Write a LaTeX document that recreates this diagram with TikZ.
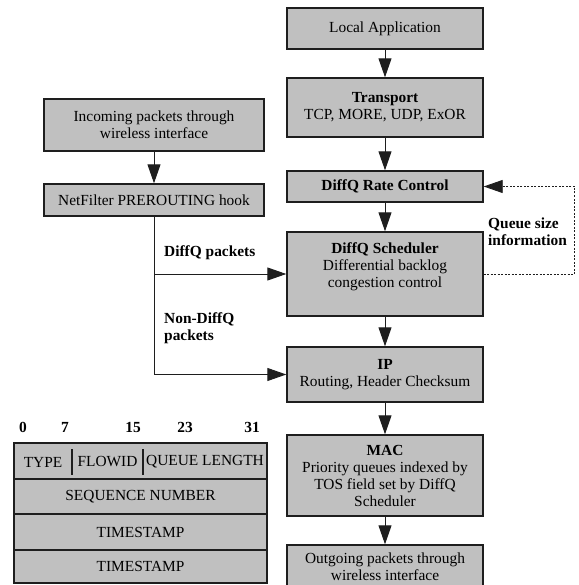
\documentclass[tikz,border=0pt]{standalone}
\usepackage{fontspec}
\setmainfont{Liberation Serif}
\usetikzlibrary{arrows.meta}
\definecolor{boxgray}{RGB}{192,192,192}
\definecolor{edgecol}{RGB}{30,30,30}
\newcommand\fsz{\fontsize{15.4}{17}\selectfont}
\tikzset{
  box/.style={draw=edgecol, line width=1.4pt, fill=boxgray, align=center, inner sep=0pt, minimum width=196pt, font=\fsz},
  row/.style={draw=edgecol, line width=1.4pt, fill=boxgray, inner sep=0pt, minimum width=253pt, font=\fsz},
  flow/.style={draw=edgecol, line width=1pt, -{Triangle[length=19pt,width=13pt]}},
  fb/.style={draw=edgecol, line width=0.9pt, dash pattern=on 2pt off 1.5pt, -{Triangle[length=19pt,width=13pt]}},
  lbl/.style={font=\fsz\bfseries, align=left, inner sep=0pt},
  txt/.style={font=\fsz, inner sep=0pt},
  bitnum/.style={font=\fsz\bfseries, inner sep=0pt},
}
\begin{document}
\begin{tikzpicture}[x=1pt,y=-1pt]
\useasboundingbox (0,0) rectangle (578,585);
% right column
\node[box, minimum height=41pt] (app) at (385,28.5) {Local Application};
\node[box, minimum height=59pt] (tr) at (385,107.5) {\textbf{Transport}\\TCP, MORE, UDP, ExOR};
\node[box, minimum height=31pt] (rate) at (385,186.5) {\textbf{DiffQ Rate Control}};
\node[box, minimum height=84pt] (sched) at (385,274) {\textbf{DiffQ Scheduler}\\Differential backlog\\congestion control\\\mbox{}};
\node[box, minimum height=55pt] (ip) at (385,374.5) {\textbf{IP}\\Routing, Header Checksum};
\node[box, minimum height=81pt] (mac) at (385,475.5) {\textbf{MAC}\\Priority queues indexed by\\TOS field set by DiffQ\\Scheduler};
\node[box, minimum height=43pt] (out) at (385,566.5) {Outgoing packets through\\wireless interface};
% left column
\node[box, minimum width=220pt, minimum height=52pt] (in) at (154,125) {Incoming packets through\\wireless interface};
\node[box, minimum width=220pt, minimum height=32pt] (nf) at (154,200) {NetFilter PREROUTING hook};
% connectors
\draw[flow] (app) -- (tr);
\draw[flow] (tr) -- (rate);
\draw[flow] (rate) -- (sched);
\draw[flow] (sched) -- (ip);
\draw[flow] (ip) -- (mac);
\draw[flow] (mac) -- (out);
\draw[flow] (in) -- (nf);
\coordinate (br) at (nf.south |- sched.west);
\draw[flow] (nf.south) |- (ip.west);
\draw[flow] (br) -- (sched.west);
\draw[fb] (sched.east) -- ++(91,0) |- (rate.east);
% labels
\node[lbl, anchor=west] (ldq) at (164,253) {DiffQ packets};
\node[lbl, anchor=west] (lndq) at (164,328) {Non-DiffQ\\packets};
\node[lbl, anchor=west] (lq) at (488,231.5) {Queue size\\information};
% packet header
\node[row, minimum height=36pt] (r1) at (140.5,461) {};
\node[row, minimum height=35pt] (r2) at (140.5,496.5) {SEQUENCE NUMBER};
\node[row, minimum height=36pt] (r3) at (140.5,532) {TIMESTAMP};
\node[row, minimum height=33pt] (r4) at (140.5,566.5) {TIMESTAMP};
\node[txt] (ftype) at (43,462) {TYPE};
\node[txt] (fflow) at (107.5,462) {FLOWID};
\node[txt] (fqueue) at (205,462) {QUEUE LENGTH};
\draw[edgecol, line width=2.5pt] (72,449) -- (72,475);
\draw[edgecol, line width=2.5pt] (143,449) -- (143,475);
\node[bitnum] (b0) at (23,427) {0};
\node[bitnum] (b7) at (65,427) {7};
\node[bitnum] (b15) at (133,427) {15};
\node[bitnum] (b23) at (185,427) {23};
\node[bitnum] (b31) at (252,427) {31};
\end{tikzpicture}
\end{document}
